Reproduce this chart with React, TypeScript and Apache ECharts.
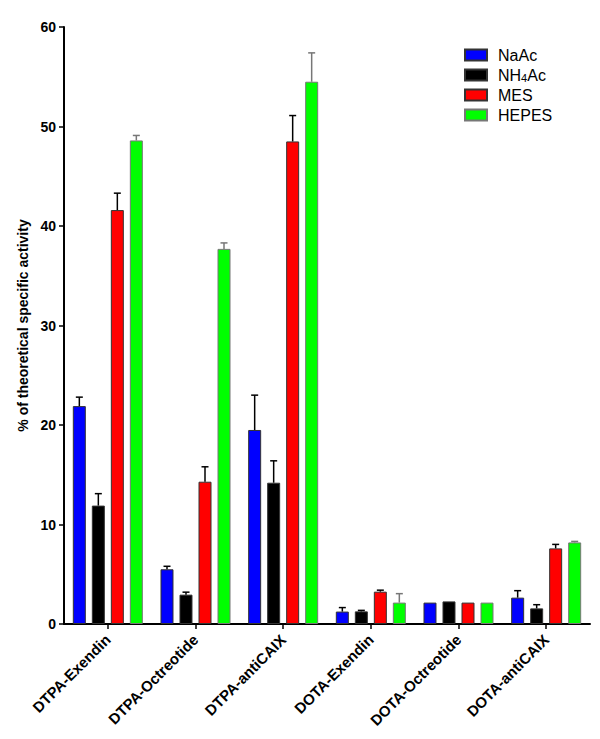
import React, { useEffect, useRef } from "react";
import * as echarts from "echarts";

const categories = [
  "DTPA-Exendin",
  "DTPA-Octreotide",
  "DTPA-antiCAIX",
  "DOTA-Exendin",
  "DOTA-Octreotide",
  "DOTA-antiCAIX",
];
const seriesNames = ["NaAc", "NH4Ac", "MES", "HEPES"];
const naac = [21.9, 5.5, 19.5, 1.25, 2.15, 2.65];
const naacErr = [0.9, 0.3, 3.5, 0.4, 0, 0.7];
const nh4ac = [11.9, 2.95, 14.2, 1.27, 2.27, 1.57];
const nh4acErr = [1.2, 0.25, 2.2, 0.1, 0, 0.37];
const mes = [41.6, 14.3, 48.5, 3.25, 2.15, 7.6];
const mesErr = [1.7, 1.5, 2.6, 0.15, 0, 0.4];
const hepes = [48.6, 37.7, 54.5, 2.15, 2.15, 8.2];
const hepesErr = [0.5, 0.6, 2.9, 0.9, 0, 0.1];
const yTicks = { min: 0, max: 60, interval: 10 };

const FONT = "Liberation Sans, Arial, sans-serif";
const BAR_W = 13;
const BAR_GAP = 6;

export default function App() {
  const ref = useRef<HTMLDivElement>(null);
  useEffect(() => {
    if (!ref.current) return;
    const chart = echarts.init(ref.current, undefined, { renderer: "svg" });
    const values = [naac, nh4ac, mes, hepes];
    const errs = [naacErr, nh4acErr, mesErr, hepesErr];
    const fills = ["#0000ff", "#000000", "#ff0000", "#00ff00"];
    const borders = ["#333333", "#333333", "#333333", "#777777"];
    const errData: number[][] = [];
    values.forEach((arr, s) =>
      arr.forEach((v, c) => errData.push([c, s, v, errs[s][c]]))
    );
    const barSeries = values.map((arr, s) => ({
      name: seriesNames[s],
      type: "bar",
      data: arr,
      barWidth: BAR_W,
      barGap: ((BAR_GAP / BAR_W) * 100).toFixed(1) + "%",
      itemStyle: { color: fills[s], borderColor: borders[s], borderWidth: 1 },
    }));
    chart.setOption({
      animation: false,
      backgroundColor: "#ffffff",
      grid: { left: 64, right: 10, top: 27, bottom: 115, outerBoundsMode: "none" },
      legend: {
        data: seriesNames,
        orient: "vertical",
        left: 459,
        top: 42,
        itemWidth: 22,
        itemHeight: 11,
        itemGap: 4,
        icon: "rect",
        formatter: (name: string) =>
          name === "NH4Ac" ? "{f|NH}{s|4}{n|Ac}" : "{f|" + name + "}",
        textStyle: {
          color: "#000",
          fontFamily: FONT,
          fontSize: 16,
          rich: {
            f: { fontSize: 16, fontFamily: FONT, color: "#000", padding: [0, 0, 0, 6] },
            n: { fontSize: 16, fontFamily: FONT, color: "#000" },
            s: { fontSize: 11, lineHeight: 10, fontFamily: FONT, color: "#000", verticalAlign: "bottom" },
          },
        },
      },
      xAxis: {
        type: "category",
        data: categories,
        axisLine: { show: true, lineStyle: { color: "#000", width: 2 } },
        axisTick: { show: true, alignWithLabel: true, length: 5, lineStyle: { color: "#000", width: 1.5 } },
        axisLabel: {
          interval: 0,
          rotate: 45,
          margin: 13,
          color: "#000",
          fontFamily: FONT,
          fontWeight: "bold",
          fontSize: 15,
        },
        splitLine: { show: false },
      },
      yAxis: {
        type: "value",
        min: yTicks.min,
        max: yTicks.max,
        interval: yTicks.interval,
        name: "% of theoretical specific activity",
        nameLocation: "middle",
        nameGap: 33,
        nameTextStyle: { color: "#000", fontFamily: FONT, fontWeight: "bold", fontSize: 14 },
        axisLine: { show: true, lineStyle: { color: "#000", width: 2 } },
        axisTick: { show: true, inside: false, length: 5, lineStyle: { color: "#000", width: 1.5 } },
        axisLabel: { margin: 8, color: "#000", fontFamily: FONT, fontWeight: "bold", fontSize: 14 },
        splitLine: { show: false },
      },
      series: [
        ...barSeries,
        {
          type: "custom",
          name: "errors",
          z: 5,
          data: errData,
          encode: { x: 0, y: 2 },
          renderItem: (params: any, api: any) => {
            const c = api.value(0);
            const s = api.value(1);
            const m = api.value(2);
            const e = api.value(3);
            if (!e) return { type: "group", children: [] };
            const total = 4 * BAR_W + 3 * BAR_GAP;
            const off = -total / 2 + BAR_W / 2 + s * (BAR_W + BAR_GAP);
            const base = api.coord([c, m]);
            const top = api.coord([c, m + e]);
            const x = base[0] + off;
            const color = s === 3 ? "#777777" : "#000000";
            return {
              type: "group",
              children: [
                { type: "line", shape: { x1: x, y1: base[1], x2: x, y2: top[1] }, style: { stroke: color, lineWidth: 1.5 } },
                { type: "line", shape: { x1: x - 3.5, y1: top[1], x2: x + 3.5, y2: top[1] }, style: { stroke: color, lineWidth: 1.5 } },
              ],
            };
          },
        },
      ],
    });
    return () => chart.dispose();
  }, []);
  return (
    <div
      ref={ref}
      style={{ position: "fixed", left: 0, top: 0, width: 600, height: 739, background: "#fff" }}
    />
  );
}
